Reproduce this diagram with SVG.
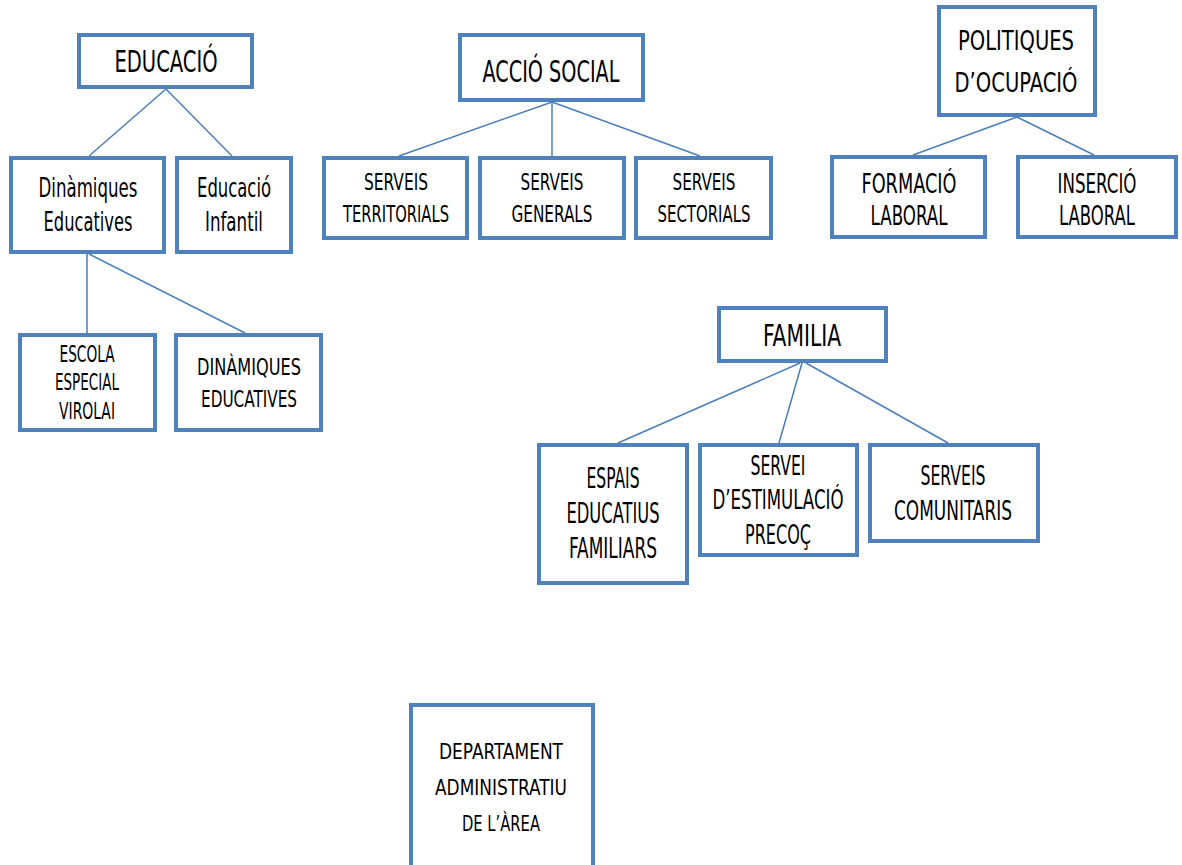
<svg xmlns="http://www.w3.org/2000/svg" width="1182" height="865" viewBox="0 0 1182 865">
<style>
.box{fill:#fff;stroke:#4f81bd;stroke-width:4}
.ln{stroke:#4a7ebb;stroke-width:1.5;fill:none}
text{font-family:"Liberation Sans Narrow","DejaVu Sans Condensed","Liberation Sans",sans-serif;fill:#000;text-anchor:middle}
</style>
<rect width="1182" height="865" fill="#fff"/>
<g id="connectors">
<line class="ln" x1="166" y1="89" x2="89" y2="156"/>
<line class="ln" x1="166" y1="89" x2="232" y2="156"/>
<line class="ln" x1="87" y1="254" x2="87" y2="333"/>
<line class="ln" x1="89" y1="254" x2="245" y2="333"/>
<line class="ln" x1="552" y1="102" x2="399" y2="156"/>
<line class="ln" x1="552" y1="102" x2="552" y2="156"/>
<line class="ln" x1="552" y1="102" x2="700" y2="156"/>
<line class="ln" x1="1017" y1="117" x2="913" y2="155"/>
<line class="ln" x1="1017" y1="117" x2="1094" y2="155"/>
<line class="ln" x1="800" y1="363" x2="618" y2="443"/>
<line class="ln" x1="802" y1="363" x2="779" y2="443"/>
<line class="ln" x1="806" y1="363" x2="948" y2="443"/>
</g>
<g id="educacio">
<rect class="box" x="79" y="35" width="173" height="52"/>
<text x="166" y="72" font-size="31" textLength="103" lengthAdjust="spacingAndGlyphs">EDUCACIÓ</text>
</g>
<g id="dinamiques">
<rect class="box" x="11" y="158" width="153" height="94"/>
<text x="88" y="197" font-size="27" textLength="99" lengthAdjust="spacingAndGlyphs">Dinàmiques</text>
<text x="88" y="231" font-size="27" textLength="89" lengthAdjust="spacingAndGlyphs">Educatives</text>
</g>
<g id="infantil">
<rect class="box" x="177" y="158" width="114" height="94"/>
<text x="234" y="197" font-size="27" textLength="74" lengthAdjust="spacingAndGlyphs">Educació</text>
<text x="234" y="231" font-size="27" textLength="58" lengthAdjust="spacingAndGlyphs">Infantil</text>
</g>
<g id="escola">
<rect class="box" x="20" y="335" width="135" height="95"/>
<text x="87" y="362" font-size="23" textLength="55" lengthAdjust="spacingAndGlyphs">ESCOLA</text>
<text x="87" y="390" font-size="23" textLength="64" lengthAdjust="spacingAndGlyphs">ESPECIAL</text>
<text x="87" y="419" font-size="23" textLength="56" lengthAdjust="spacingAndGlyphs">VIROLAI</text>
</g>
<g id="dinamiques2">
<rect class="box" x="176" y="335" width="145" height="95"/>
<text x="249" y="375" font-size="23" textLength="104" lengthAdjust="spacingAndGlyphs">DINÀMIQUES</text>
<text x="249" y="407" font-size="23" textLength="96" lengthAdjust="spacingAndGlyphs">EDUCATIVES</text>
</g>
<g id="acciosocial">
<rect class="box" x="460" y="35" width="183" height="65"/>
<text x="551" y="82" font-size="30" textLength="137" lengthAdjust="spacingAndGlyphs">ACCIÓ SOCIAL</text>
</g>
<g id="territorials">
<rect class="box" x="324" y="158" width="143" height="80"/>
<text x="396" y="190" font-size="23" textLength="64" lengthAdjust="spacingAndGlyphs">SERVEIS</text>
<text x="396" y="222" font-size="23" textLength="106" lengthAdjust="spacingAndGlyphs">TERRITORIALS</text>
</g>
<g id="generals">
<rect class="box" x="480" y="158" width="144" height="80"/>
<text x="552" y="190" font-size="23" textLength="63" lengthAdjust="spacingAndGlyphs">SERVEIS</text>
<text x="552" y="222" font-size="23" textLength="81" lengthAdjust="spacingAndGlyphs">GENERALS</text>
</g>
<g id="sectorials">
<rect class="box" x="636" y="158" width="135" height="80"/>
<text x="704" y="190" font-size="23" textLength="63" lengthAdjust="spacingAndGlyphs">SERVEIS</text>
<text x="704" y="222" font-size="23" textLength="93" lengthAdjust="spacingAndGlyphs">SECTORIALS</text>
</g>
<g id="politiques">
<rect class="box" x="939" y="7" width="156" height="108"/>
<text x="1016" y="50" font-size="26" textLength="116" lengthAdjust="spacingAndGlyphs">POLITIQUES</text>
<text x="1016" y="92" font-size="26" textLength="123" lengthAdjust="spacingAndGlyphs">D’OCUPACIÓ</text>
</g>
<g id="formacio">
<rect class="box" x="832" y="157" width="153" height="80"/>
<text x="909" y="193" font-size="27" textLength="95" lengthAdjust="spacingAndGlyphs">FORMACIÓ</text>
<text x="909" y="225" font-size="27" textLength="77" lengthAdjust="spacingAndGlyphs">LABORAL</text>
</g>
<g id="insercio">
<rect class="box" x="1018" y="157" width="158" height="80"/>
<text x="1097" y="193" font-size="27" textLength="79" lengthAdjust="spacingAndGlyphs">INSERCIÓ</text>
<text x="1097" y="225" font-size="27" textLength="76" lengthAdjust="spacingAndGlyphs">LABORAL</text>
</g>
<g id="familia">
<rect class="box" x="719" y="308" width="167" height="53"/>
<text x="802" y="346" font-size="31" textLength="78" lengthAdjust="spacingAndGlyphs">FAMILIA</text>
</g>
<g id="espais">
<rect class="box" x="539" y="445" width="148" height="138"/>
<text x="613" y="488" font-size="28" textLength="53" lengthAdjust="spacingAndGlyphs">ESPAIS</text>
<text x="613" y="523" font-size="28" textLength="93" lengthAdjust="spacingAndGlyphs">EDUCATIUS</text>
<text x="613" y="558" font-size="28" textLength="88" lengthAdjust="spacingAndGlyphs">FAMILIARS</text>
</g>
<g id="estimulacio">
<rect class="box" x="700" y="445" width="157" height="110"/>
<text x="778" y="475" font-size="26" textLength="55" lengthAdjust="spacingAndGlyphs">SERVEI</text>
<text x="778" y="509" font-size="26" textLength="131" lengthAdjust="spacingAndGlyphs">D’ESTIMULACIÓ</text>
<text x="778" y="544" font-size="26" textLength="66" lengthAdjust="spacingAndGlyphs">PRECOÇ</text>
</g>
<g id="comunitaris">
<rect class="box" x="870" y="445" width="168" height="96"/>
<text x="953" y="485" font-size="26" textLength="65" lengthAdjust="spacingAndGlyphs">SERVEIS</text>
<text x="953" y="520" font-size="26" textLength="118" lengthAdjust="spacingAndGlyphs">COMUNITARIS</text>
</g>
<g id="departament">
<rect class="box" x="411" y="705" width="182" height="170"/>
<text x="501" y="759" font-size="22" textLength="124" lengthAdjust="spacingAndGlyphs">DEPARTAMENT</text>
<text x="501" y="795" font-size="22" textLength="132" lengthAdjust="spacingAndGlyphs">ADMINISTRATIU</text>
<text x="501" y="831" font-size="22" textLength="78" lengthAdjust="spacingAndGlyphs">DE L’ÀREA</text>
</g>
</svg>
